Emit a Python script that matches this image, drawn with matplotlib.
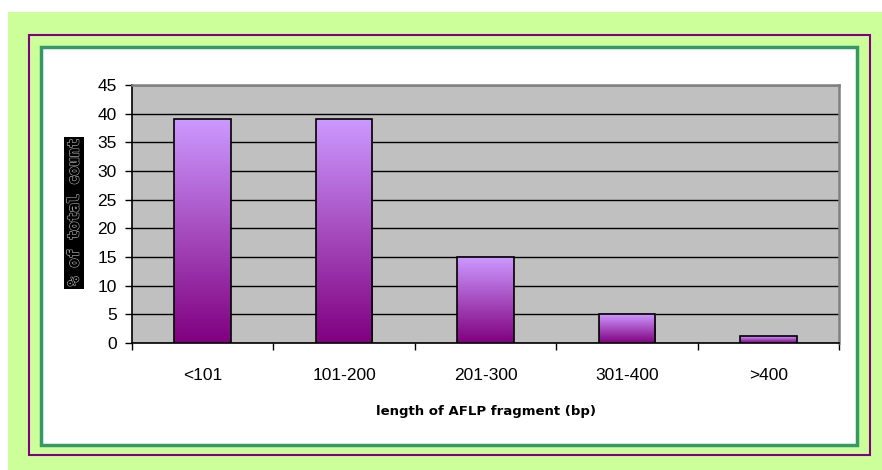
import numpy as np
import matplotlib.pyplot as plt
import matplotlib.patheffects as pe
from matplotlib.colors import LinearSegmentedColormap
from matplotlib.patches import Rectangle

# fragment size classes and share of all fragments (%)
categories = ["<101", "101-200", "201-300", "301-400", ">400"]
percent = [39, 39, 15, 5, 1.2]
y_ticks = list(range(0, 50, 5))

W, H = 882, 470
fig = plt.figure(figsize=(W / 100, H / 100), dpi=100)
fig.patch.set_facecolor("white")


def frame_box(x0, y0, x1, y1, **kw):
    # box given in pixels from the top-left corner, drawn behind the axes
    r = Rectangle((x0 / W, 1 - y1 / H), (x1 - x0) / W, (y1 - y0) / H,
                  transform=fig.transFigure, zorder=-1, **kw)
    fig.patches.append(r)


frame_box(8, 12, 882, 470, facecolor="#CCFF99", edgecolor="none")
frame_box(29, 35, 870, 455, facecolor="none", edgecolor="#800080", lw=1.5)
frame_box(41, 47, 857, 445, facecolor="white", edgecolor="#339966", lw=2.5)

ax = fig.add_axes([132 / W, 1 - 343 / H, 707 / W, 258 / H])
ax.set_facecolor("#C0C0C0")

x = np.arange(len(categories))
bars = ax.bar(x, percent, width=0.4, color="none", edgecolor="black",
              lw=1.2, zorder=4)

# vertical purple gradient inside every bar
cmap = LinearSegmentedColormap.from_list("violet", ["#800080", "#CC99FF"])
grad = np.linspace(0, 1, 256).reshape(-1, 1)
for b in bars:
    x0, w, h = b.get_x(), b.get_width(), b.get_height()
    im = ax.imshow(grad, cmap=cmap, origin="lower", aspect="auto",
                   extent=[x0, x0 + w, 0, h], zorder=3)
    im.set_clip_path(b)

ax.set_xlim(-0.5, len(categories) - 0.5)
ax.set_ylim(0, 45)
ax.set_yticks(y_ticks)
ax.yaxis.grid(True, color="black", lw=1)
ax.set_axisbelow(True)

ax.set_xticks(np.arange(-0.5, len(categories), 1))
ax.set_xticklabels([])
ax.set_xticks(x, minor=True)
ax.set_xticklabels(categories, minor=True)
ax.tick_params(axis="x", which="major", direction="out", length=5, width=1)
ax.tick_params(axis="x", which="minor", length=0, pad=18, labelsize=12.5)
ax.tick_params(axis="y", direction="out", length=5, width=1, pad=6,
               labelsize=12.5)
for lab in ax.get_xticklabels(minor=True) + ax.get_yticklabels():
    lab.set_family("Liberation Sans")

for side in ["left", "bottom"]:
    ax.spines[side].set_color("black")
    ax.spines[side].set_linewidth(1.2)
for side in ["top", "right"]:
    ax.spines[side].set_color("#808080")
    ax.spines[side].set_linewidth(1.8)

fig.text(486 / W, 1 - 411 / H, "length of AFLP fragment (bp)",
         ha="center", va="center", fontsize=9.5, fontweight="bold",
         family="DejaVu Sans")

ylab = fig.text(74 / W, 1 - 213 / H, "% of total count", rotation=90,
                ha="center", va="center", fontsize=11, fontweight="bold",
                family="DejaVu Sans Mono", color="black",
                bbox=dict(facecolor="black", edgecolor="none", pad=2))
ylab.set_path_effects([pe.withStroke(linewidth=1.2, foreground="#9a9a9a"),
                       pe.Normal()])

fig.savefig("out.png", dpi=100)
